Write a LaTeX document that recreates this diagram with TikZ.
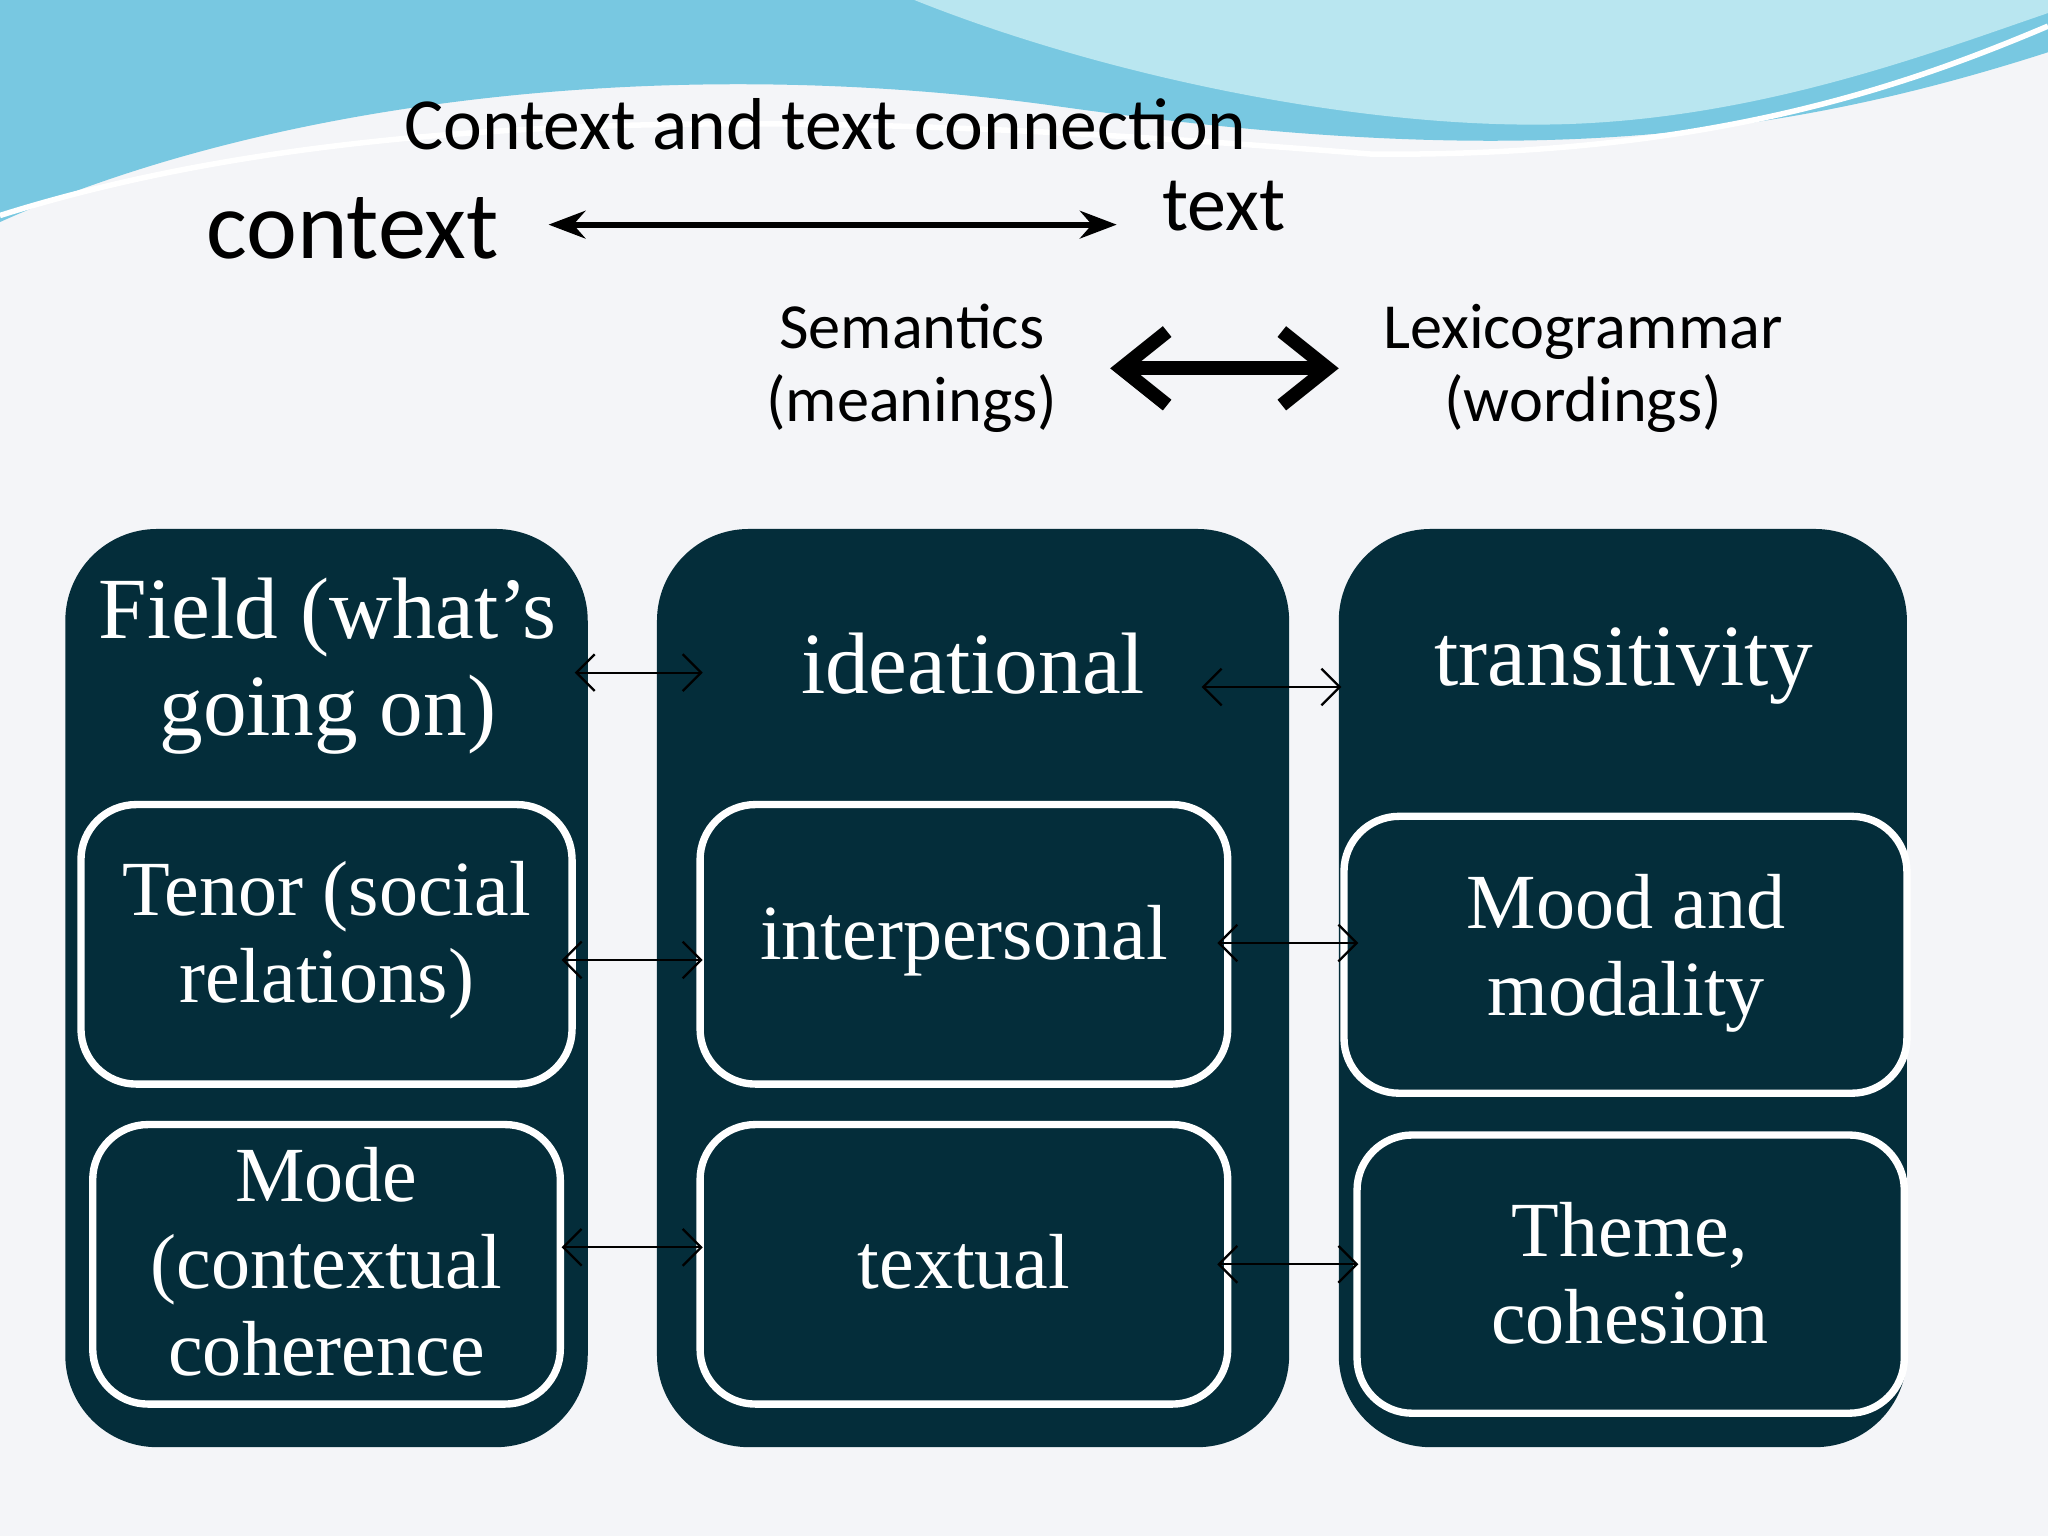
\documentclass[tikz,border=0pt]{standalone}
\usepackage{fontspec}
\setmainfont{Liberation Serif}
\newfontfamily\calibri{Carlito}
\usetikzlibrary{arrows.meta}
\usetikzlibrary{calc}
\definecolor{slate}{RGB}{4,45,58}
\definecolor{paper}{RGB}{244,245,248}
\definecolor{seablue}{RGB}{120,200,225}
\definecolor{seapale}{RGB}{185,230,240}
\tikzset{
	colstyle/.style={fill=slate,rounded corners=20},
	cellstyle/.style={draw=white,line width=1.6pt,rounded corners=12},
	celltext/.style={text=white,align=center,font=\fontsize{17}{19}\selectfont},
	headtext/.style={text=white,align=center,font=\fontsize{19}{21}\selectfont},
	linkstyle/.style={{Straight Barb[length=4pt]}-{Straight Barb[length=4pt]},line width=0.5pt}
}
\begin{document}
\begin{tikzpicture}[x=0.01cm,y=-0.01cm]
	\useasboundingbox (0,0) rectangle (1568,1176);
	\fill[paper] (0,0) rectangle (1568,1176);
	% wave at the top
	\fill[seablue] (0,0) -- (1568,0) -- (1568,40) .. controls (1350,110) and (1150,130) .. (800,80) .. controls (500,40) and (200,80) .. (0,170) -- cycle;
	\fill[seapale] (700,0) .. controls (850,60) and (1050,100) .. (1200,95) .. controls (1350,90) and (1480,40) .. (1568,10) -- (1568,0) -- cycle;
	\draw[white,line width=1.2pt] (0,165) .. controls (300,70) and (700,90) .. (1050,118) .. controls (1300,120) and (1450,70) .. (1568,20);
	\node[font=\calibri\fontsize{16}{18}\selectfont] (title) at (632,95) {Context and text connection};
	\node[font=\calibri\fontsize{21}{24}\selectfont] (context) at (270,175) {context};
	\node[font=\calibri\fontsize{17}{20}\selectfont] (text) at (937,158) {text};
	\coordinate (c1) at (420,172);
	\coordinate (t1) at (855,172);
	\draw[{Stealth[length=8pt]}-{Stealth[length=8pt]},line width=1.3pt] (c1) -- (t1);
	\node[font=\calibri\fontsize{14}{16}\selectfont,align=center] (sem) at (698,282) {Semantics\\(meanings)};
	\node[font=\calibri\fontsize{14}{16}\selectfont,align=center] (lex) at (1212,282) {Lexicogrammar\\(wordings)};
	\coordinate (s1) at (850,282);
	\coordinate (l1) at (1025,282);
	\draw[{Straight Barb[length=10pt,width=16pt]}-{Straight Barb[length=10pt,width=16pt]},line width=3pt] (s1) -- (l1);
	% columns
	\fill[colstyle] (50,405) rectangle (450,1108);
	\fill[colstyle] (503,405) rectangle (987,1108);
	\fill[colstyle] (1025,405) rectangle (1460,1108);
	\node[headtext] (field) at (251,510) {Field (what’s\\going on)};
	\node[headtext] (idea) at (745,508) {ideational};
	\node[headtext] (trans) at (1243,510) {transitivity};
	\draw[cellstyle] (62,616) rectangle (438,830);
	\draw[cellstyle] (71,861) rectangle (429,1075);
	\draw[cellstyle] (536,616) rectangle (940,830);
	\draw[cellstyle] (536,861) rectangle (940,1075);
	\draw[cellstyle] (1029,625) rectangle (1460,837);
	\draw[cellstyle] (1039,869) rectangle (1458,1082);
	\node[celltext] (tenor) at (250,720) {Tenor (social\\relations)};
	\node[celltext] (mode) at (250,966) {Mode\\(contextual\\coherence};
	\node[celltext] (inter) at (738,720) {interpersonal};
	\node[celltext] (textual) at (738,966) {textual};
	\node[celltext] (mood) at (1245,730) {Mood and\\modality};
	\node[celltext] (theme) at (1248,975) {Theme,\\cohesion};
	% links between columns
	\coordinate (fa) at (440,515); \coordinate (fb) at (538,515);
	\coordinate (ia) at (920,526); \coordinate (ib) at (1027,526);
	\coordinate (ta) at (430,735); \coordinate (tb) at (538,735);
	\coordinate (pa) at (932,722); \coordinate (pb) at (1040,722);
	\coordinate (ma) at (430,955); \coordinate (mb) at (538,955);
	\coordinate (xa) at (932,968); \coordinate (xb) at (1040,968);
	\draw[linkstyle] (fa) -- (fb);
	\draw[linkstyle] (ia) -- (ib);
	\draw[linkstyle] (ta) -- (tb);
	\draw[linkstyle] (pa) -- (pb);
	\draw[linkstyle] (ma) -- (mb);
	\draw[linkstyle] (xa) -- (xb);
\end{tikzpicture}
\end{document}
